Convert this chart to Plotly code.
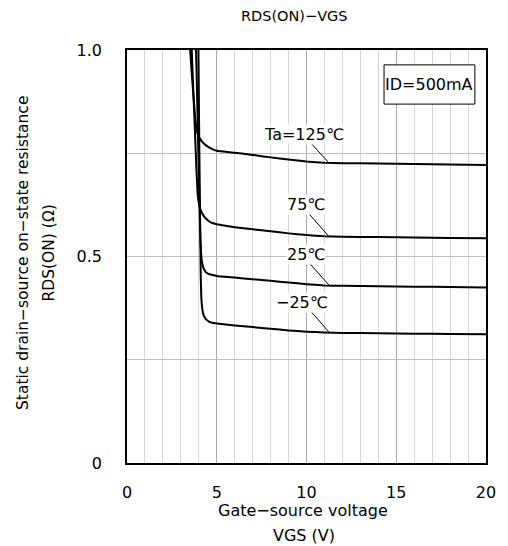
import plotly.graph_objects as go

# ---- data ----
series_names = ["Ta=125℃", "75℃", "25℃", "−25℃"]

vgs_125 = [3.44, 3.55, 3.68, 3.80, 3.88, 3.93, 3.98, 4.05, 4.15, 4.30, 4.50, 4.75, 5.0, 6.0, 7.0, 8.0, 9.0, 10.0, 11.0, 12.0, 14.0, 16.0, 18.0, 20.0]
rds_125 = [1.05, 0.98, 0.90, 0.835, 0.808, 0.798, 0.792, 0.786, 0.780, 0.773, 0.766, 0.760, 0.756, 0.751, 0.746, 0.740, 0.735, 0.730, 0.727, 0.726, 0.725, 0.724, 0.723, 0.7215]

vgs_75 = [3.56, 3.66, 3.76, 3.86, 3.93, 3.98, 4.04, 4.12, 4.22, 4.35, 4.55, 4.75, 5.0, 6.0, 7.0, 8.0, 9.0, 10.0, 11.0, 12.0, 14.0, 16.0, 18.0, 20.0]
rds_75 = [1.05, 0.94, 0.83, 0.72, 0.655, 0.635, 0.622, 0.611, 0.602, 0.594, 0.586, 0.581, 0.578, 0.571, 0.566, 0.561, 0.556, 0.552, 0.549, 0.548, 0.547, 0.546, 0.545, 0.544]

vgs_25 = [3.82, 3.90, 3.97, 4.04, 4.09, 4.14, 4.19, 4.26, 4.35, 4.45, 4.60, 4.80, 5.0, 6.0, 7.0, 8.0, 9.0, 10.0, 11.0, 12.0, 14.0, 16.0, 18.0, 20.0]
rds_25 = [1.05, 0.90, 0.76, 0.62, 0.54, 0.500, 0.484, 0.472, 0.465, 0.460, 0.457, 0.455, 0.453, 0.449, 0.445, 0.441, 0.437, 0.433, 0.430, 0.429, 0.428, 0.427, 0.426, 0.425]

vgs_m25 = [3.97, 4.02, 4.07, 4.11, 4.14, 4.18, 4.23, 4.30, 4.38, 4.48, 4.62, 4.80, 5.0, 6.0, 7.0, 8.0, 9.0, 10.0, 11.0, 12.0, 14.0, 16.0, 18.0, 20.0]
rds_m25 = [1.05, 0.80, 0.60, 0.45, 0.40, 0.378, 0.364, 0.355, 0.349, 0.345, 0.341, 0.339, 0.338, 0.333, 0.329, 0.325, 0.321, 0.318, 0.316, 0.315, 0.314, 0.313, 0.3125, 0.312]

x_ticks = [0, 5, 10, 15, 20]
y_tickvals = [0, 0.25, 0.5, 0.75, 1.0]
y_ticktext = ["0", "", "0.5", "", "1.0"]

title_text = "RDS(ON)−VGS"
x_title_lines = ["Gate−source voltage", "VGS (V)"]
y_title_lines = ["Static drain−source on−state resistance", "RDS(ON) (Ω)"]
condition_text = "ID=500mA"

FONT = "DejaVu Sans, Noto Sans CJK JP, sans-serif"

fig = go.Figure()
for xs, ys, nm in [(vgs_125, rds_125, series_names[0]), (vgs_75, rds_75, series_names[1]),
                   (vgs_25, rds_25, series_names[2]), (vgs_m25, rds_m25, series_names[3])]:
    fig.add_trace(go.Scatter(x=xs, y=ys, mode="lines", name=nm,
                             line=dict(color="black", width=2, shape="spline", smoothing=0.3),
                             showlegend=False, hoverinfo="skip"))

# label text positions and leader lines
label_pos = [(9.84, 0.796), (9.95, 0.625), (9.95, 0.506), (9.77, 0.389)]
leader = [((10.13, 0.780), (11.22, 0.728)),
          ((10.13, 0.604), (11.22, 0.550)),
          ((10.16, 0.484), (11.25, 0.431)),
          ((10.13, 0.373), (11.27, 0.316))]
for (lx, ly), nm, ((x0, y0), (x1, y1)) in zip(label_pos, series_names, leader):
    fig.add_annotation(x=lx, y=ly, xref="x", yref="y", text=nm, showarrow=False,
                       xanchor="center", yanchor="middle",
                       font=dict(family=FONT, size=16, color="black"),
                       bgcolor="white", borderpad=0)
    fig.add_shape(type="line", x0=x0, y0=y0, x1=x1, y1=y1, xref="x", yref="y",
                  line=dict(color="black", width=1))

# condition box
fig.add_shape(type="rect", x0=14.32, x1=19.38, y0=0.869, y1=0.964, xref="x", yref="y",
              line=dict(color="black", width=1), fillcolor="white", layer="above")
fig.add_annotation(x=16.85, y=0.916, xref="x", yref="y", text=condition_text, showarrow=False,
                   xanchor="center", yanchor="middle",
                   font=dict(family=FONT, size=16, color="black"))

# page has an 8px body margin: shrink the figure so the plot lands where the reference has it
W, H = 500, 538
pl, pr, pt, pb = 119, 15, 42, 83
pw, ph = W - pl - pr, H - pt - pb

def px(xw):  # window pixel -> paper fraction
    return (xw - 8 - pl) / pw

def py(yw):
    return (H - pb - (yw - 8)) / ph

fig.update_layout(
    width=W, height=H,
    margin=dict(l=pl, r=pr, t=pt, b=pb),
    paper_bgcolor="white", plot_bgcolor="white",
    font=dict(family=FONT, size=15, color="black"),
    showlegend=False,
)

fig.update_xaxes(range=[0, 20], tickvals=x_ticks, ticks="outside", ticklen=14,
                 tickcolor="rgba(0,0,0,0)", tickfont=dict(size=16),
                 showgrid=True, gridcolor="#a8a8a8", gridwidth=1,
                 minor=dict(dtick=1, showgrid=True, gridcolor="#d6d6d6", gridwidth=1),
                 showline=True, linecolor="black", linewidth=1.5, mirror=True, zeroline=False)
fig.update_yaxes(range=[0, 1], tickvals=y_tickvals, ticktext=y_ticktext, ticks="outside",
                 ticklen=20, tickcolor="rgba(0,0,0,0)", tickfont=dict(size=16),
                 showgrid=True, gridcolor="#bdbdbd", gridwidth=1,
                 showline=True, linecolor="black", linewidth=1.5, mirror=True, zeroline=False)

def text_at(xw, yw, txt, size, angle=0):
    fig.add_annotation(x=px(xw), y=py(yw), xref="paper", yref="paper", text=txt,
                       showarrow=False, xanchor="center", yanchor="middle", textangle=angle,
                       font=dict(family=FONT, size=size, color="black"))

text_at(298, 16, title_text, 14.5)
text_at(306, 510, x_title_lines[0], 16)
text_at(307, 535, x_title_lines[1], 16)
text_at(21, 253, y_title_lines[0], 15.5, -90)
text_at(47, 253, y_title_lines[1], 15.5, -90)

fig.write_html("out.html")
